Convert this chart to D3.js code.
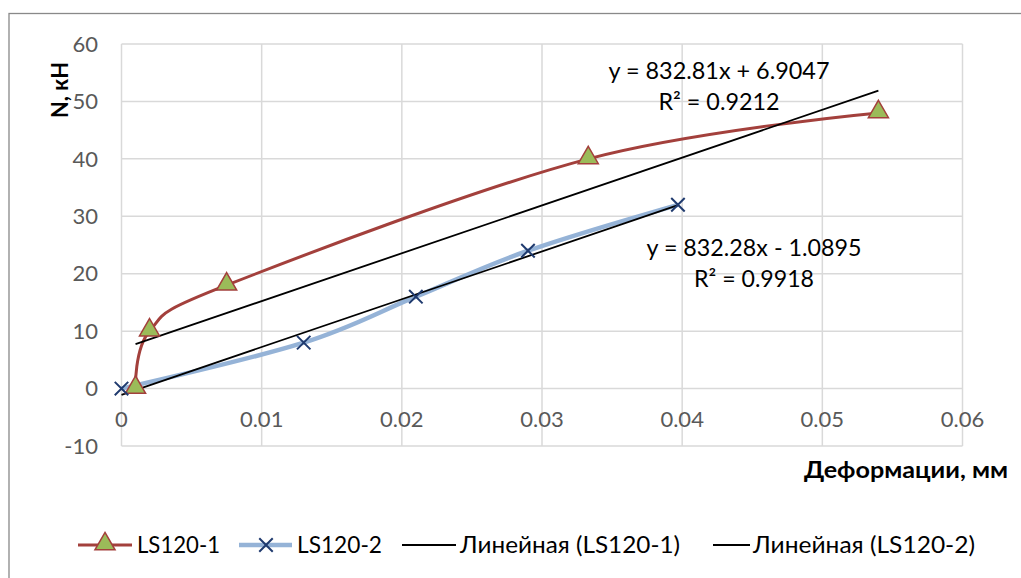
<!DOCTYPE html>
<html>
<head>
<meta charset="utf-8">
<script src="https://cdn.jsdelivr.net/npm/d3@7"></script>
<style>
  body { margin: 0; background: #fff; }
  svg { display: block; font-family: Lato, "Open Sans", sans-serif; }
</style>
</head>
<body>
<svg id="chart"></svg>
<script>
// data
var s1x = [0.001, 0.002, 0.0075, 0.0333, 0.054];
var s1y = [0, 10, 18, 40, 48];
var s2x = [0, 0.013, 0.021, 0.029, 0.0397];
var s2y = [0, 8, 16, 24, 32];

var trend1 = { slope: 832.81, icpt: 6.9047, eq: "y = 832.81x + 6.9047", r2: "R² = 0.9212" };
var trend2 = { slope: 832.28, icpt: -1.0895, eq: "y = 832.28x - 1.0895", r2: "R² = 0.9918" };

var xTicks = [0, 0.01, 0.02, 0.03, 0.04, 0.05, 0.06];
var yTicks = [-10, 0, 10, 20, 30, 40, 50, 60];
var legendNames = ["LS120-1", "LS120-2", "Линейная (LS120-1)", "Линейная (LS120-2)"];

var width = 1021, height = 578;
var svg = d3.select("#chart").attr("width", width).attr("height", height);

var x = d3.scaleLinear().domain([0, 0.06]).range([121.5, 962.5]);
var y = d3.scaleLinear().domain([-10, 60]).range([446, 44]);

// outer chart border
svg.append("rect")
	.attr("x", 9).attr("y", 13.5)
	.attr("width", 1030).attr("height", 600)
	.attr("fill", "none").attr("stroke", "#898989").attr("stroke-width", 1.3);

// gridlines
var grid = svg.append("g");
grid.selectAll("line.h").data(yTicks).enter().append("line")
	.attr("x1", x(0)).attr("x2", x(0.06))
	.attr("y1", function(d){ return y(d); }).attr("y2", function(d){ return y(d); })
	.attr("stroke", "#d9d9d9").attr("stroke-width", 1.5);
grid.selectAll("line.v").data(xTicks).enter().append("line")
	.attr("y1", y(60)).attr("y2", y(-10))
	.attr("x1", function(d){ return x(d); }).attr("x2", function(d){ return x(d); })
	.attr("stroke", "#d9d9d9").attr("stroke-width", 1.5);

// tick labels
svg.append("g").selectAll("text").data(yTicks).enter().append("text")
	.attr("x", 98).attr("y", function(d){ return y(d); })
	.attr("dy", "0.35em").attr("text-anchor", "end")
	.attr("font-size", 22).attr("fill", "#595959")
	.text(function(d){ return d; });
svg.append("g").selectAll("text").data(xTicks).enter().append("text")
	.attr("x", function(d){ return x(d); }).attr("y", 419)
	.attr("dy", "0.35em").attr("text-anchor", "middle")
	.attr("font-size", 22).attr("fill", "#595959")
	.text(function(d){ return d; });

// axis titles
svg.append("text")
	.attr("transform", "translate(68,90) rotate(-90)")
	.attr("text-anchor", "middle")
	.attr("font-size", 22).attr("font-weight", "bold")
	.attr("textLength", 56).attr("lengthAdjust", "spacingAndGlyphs")
	.text("N, кН");
svg.append("text")
	.attr("x", 804).attr("y", 478)
	.attr("font-size", 23).attr("font-weight", "bold")
	.attr("textLength", 204).attr("lengthAdjust", "spacingAndGlyphs")
	.text("Деформации, мм");

var red = "#a3403c", green = "#9bbb59", blue = "#95b3d7", navy = "#1f3a6e";

function pts(xs, ys){ return xs.map(function(v, i){ return [v, ys[i]]; }); }

var smooth = d3.line()
	.x(function(d){ return x(d[0]); })
	.y(function(d){ return y(d[1]); })
	.curve(d3.curveCardinal.tension(0));

// series 2 line
svg.append("path").attr("d", smooth(pts(s2x, s2y)))
	.attr("fill", "none").attr("stroke", blue).attr("stroke-width", 4.5);
// series 1 line
svg.append("path").attr("d", smooth(pts(s1x, s1y)))
	.attr("fill", "none").attr("stroke", red).attr("stroke-width", 3);

// trend lines
function trendPts(t, xs){
	var a = d3.min(xs), b = d3.max(xs);
	return [[a, t.slope * a + t.icpt], [b, t.slope * b + t.icpt]];
}
var straight = d3.line().x(function(d){ return x(d[0]); }).y(function(d){ return y(d[1]); });
svg.append("path").attr("d", straight(trendPts(trend1, s1x)))
	.attr("fill", "none").attr("stroke", "#000").attr("stroke-width", 1.8);
svg.append("path").attr("d", straight(trendPts(trend2, s2x)))
	.attr("fill", "none").attr("stroke", "#000").attr("stroke-width", 1.8);

// markers
var tri = d3.symbol().type(d3.symbolTriangle).size(175);
svg.append("g").selectAll("path").data(pts(s1x, s1y)).enter().append("path")
	.attr("d", tri)
	.attr("transform", function(d){ return "translate(" + x(d[0]) + "," + (y(d[1]) - 1) + ")"; })
	.attr("fill", green).attr("stroke", red).attr("stroke-width", 1.5);

var cross = d3.symbol().type(d3.symbolX).size(120);
svg.append("g").selectAll("path").data(pts(s2x, s2y)).enter().append("path")
	.attr("d", cross)
	.attr("transform", function(d){ return "translate(" + x(d[0]) + "," + y(d[1]) + ")"; })
	.attr("fill", "none").attr("stroke", navy).attr("stroke-width", 2);

// trend equations
function eqLabel(t, cx, cy, w1, w2){
	var g = svg.append("g").attr("font-size", 23.5).attr("fill", "#000").attr("text-anchor", "middle");
	g.append("text").attr("x", cx).attr("y", cy).attr("dy", "0.35em")
		.attr("textLength", w1).attr("lengthAdjust", "spacingAndGlyphs").text(t.eq);
	g.append("text").attr("x", cx).attr("y", cy + 31).attr("dy", "0.35em")
		.attr("textLength", w2).attr("lengthAdjust", "spacingAndGlyphs").text(t.r2);
}
eqLabel(trend1, 719, 71, 221, 121);
eqLabel(trend2, 754, 248, 215, 120);

// legend
var ly = 545;
var leg = svg.append("g").attr("font-size", 22.5);
function legText(tx, w, s){
	leg.append("text").attr("x", tx).attr("y", ly).attr("dy", "0.35em")
		.attr("textLength", w).attr("lengthAdjust", "spacingAndGlyphs").text(s);
}
// LS120-1
leg.append("line").attr("x1", 78).attr("x2", 132).attr("y1", ly).attr("y2", ly)
	.attr("stroke", red).attr("stroke-width", 3);
leg.append("path").attr("d", tri).attr("transform", "translate(105," + (ly - 1) + ")")
	.attr("fill", green).attr("stroke", red).attr("stroke-width", 1.5);
legText(137, 83, legendNames[0]);
// LS120-2
leg.append("line").attr("x1", 239).attr("x2", 292).attr("y1", ly).attr("y2", ly)
	.attr("stroke", blue).attr("stroke-width", 4.5);
leg.append("path").attr("d", cross).attr("transform", "translate(266," + ly + ")")
	.attr("fill", "none").attr("stroke", navy).attr("stroke-width", 2);
legText(297, 85, legendNames[1]);
// trends
leg.append("line").attr("x1", 402).attr("x2", 456).attr("y1", ly).attr("y2", ly)
	.attr("stroke", "#000").attr("stroke-width", 1.8);
legText(460, 220, legendNames[2]);
leg.append("line").attr("x1", 713).attr("x2", 750).attr("y1", ly).attr("y2", ly)
	.attr("stroke", "#000").attr("stroke-width", 1.8);
legText(753, 222, legendNames[3]);
</script>
</body>
</html>
